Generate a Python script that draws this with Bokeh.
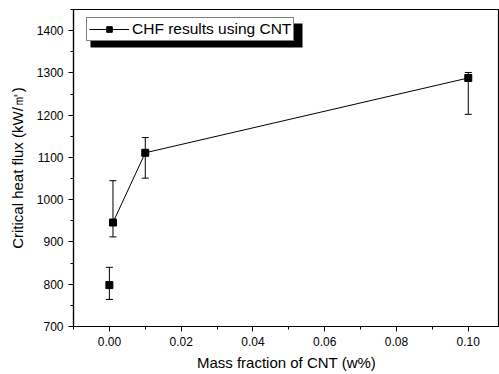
from bokeh.plotting import figure
from bokeh.models import (ColumnDataSource, Whisker, FixedTicker, PrintfTickFormatter,
                          Legend, LegendItem, BoxAnnotation, Range1d)
from bokeh.embed import file_html
from bokeh.resources import INLINE

# data
mass_fraction = [0.0, 0.001, 0.01, 0.1]
chf = [798, 946, 1111, 1288]
err_upper = [840, 1045, 1147, 1301]
err_lower = [764, 912, 1051, 1202]
line_x = [0.001, 0.01, 0.1]
line_y = [946, 1111, 1288]
x_ticks = [0.0, 0.02, 0.04, 0.06, 0.08, 0.10]
x_minor = [-0.01, 0.01, 0.03, 0.05, 0.07, 0.09]
y_ticks = [700, 800, 900, 1000, 1100, 1200, 1300, 1400]
y_minor = [750, 850, 950, 1050, 1150, 1250, 1350, 1450]

FONT = "Liberation Sans"

p = figure(width=499, height=374, output_backend="svg", toolbar_location=None,
           x_range=Range1d(-0.01, 0.1087), y_range=Range1d(700, 1450),
           min_border_left=73, min_border_top=9, min_border_right=0, min_border_bottom=48)
p.outline_line_color = "black"
p.outline_line_width = 1.2
p.grid.visible = False
p.background_fill_color = "white"

src = ColumnDataSource(dict(x=mass_fraction, y=chf, up=err_upper, lo=err_lower))
lsrc = ColumnDataSource(dict(x=line_x, y=line_y))

w = Whisker(base="x", upper="up", lower="lo", source=src, dimension="height",
            line_color="black", line_width=1)
w.upper_head.size = 7
w.lower_head.size = 7
w.upper_head.line_color = "black"
w.lower_head.line_color = "black"
p.add_layout(w)

lr = p.line("x", "y", source=lsrc, line_color="black", line_width=1)
sr = p.scatter("x", "y", source=src, marker="square", size=7, color="black")

bottom_axis = p.below[0]
left_axis = p.left[0]

for ax in (bottom_axis, left_axis):
    ax.axis_line_color = "black"
    ax.axis_line_width = 1.2
    ax.major_tick_out = 5
    ax.major_tick_in = 0
    ax.minor_tick_out = 3
    ax.minor_tick_in = 0
    ax.major_tick_line_color = "black"
    ax.minor_tick_line_color = "black"
    ax.major_label_text_font = FONT
    ax.major_label_text_font_size = "12px"
    ax.major_label_text_color = "black"
    ax.axis_label_text_font = FONT
    ax.axis_label_text_font_size = "15px"
    ax.axis_label_text_font_style = "normal"
    ax.axis_label_text_color = "black"

bottom_axis.ticker = FixedTicker(ticks=x_ticks, minor_ticks=x_minor)
left_axis.ticker = FixedTicker(ticks=y_ticks, minor_ticks=y_minor)
bottom_axis.formatter = PrintfTickFormatter(format="%.2f")
left_axis.formatter = PrintfTickFormatter(format="%d")
bottom_axis.axis_label = "Mass fraction of CNT (w%)"
left_axis.axis_label = "Critical heat flux (kW/㎡)"
bottom_axis.major_label_standoff = 5
bottom_axis.axis_label_standoff = 5
left_axis.major_label_standoff = 5
left_axis.axis_label_standoff = 8

# legend shadow (screen units, relative to frame bottom-left)
p.add_layout(BoxAnnotation(left=17, right=229, bottom=279, top=303,
                           left_units="screen", right_units="screen",
                           top_units="screen", bottom_units="screen",
                           fill_color="black", fill_alpha=1, line_alpha=0))

legend = Legend(items=[LegendItem(label="CHF results using CNT", renderers=[lr, sr])],
                location=(13, 285), margin=0, padding=2, spacing=0,
                glyph_width=40, glyph_height=14, label_standoff=3,
                border_line_color="black", border_line_width=1,
                background_fill_color="white", background_fill_alpha=1,
                label_text_font=FONT, label_text_font_size="15.5px",
                label_text_color="black", label_height=14)
p.add_layout(legend)

open("out.html", "w").write(file_html(p, INLINE))
